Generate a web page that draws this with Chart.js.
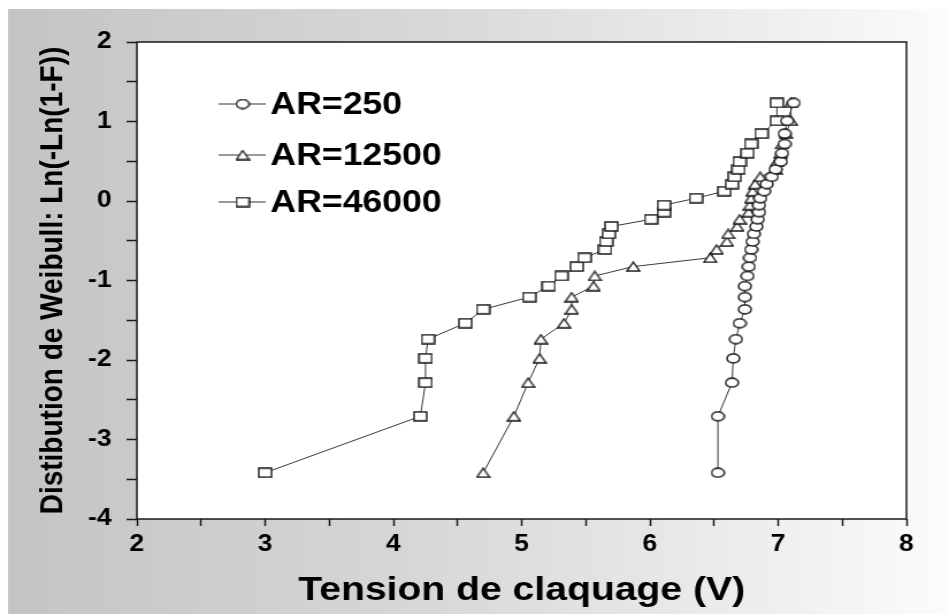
<!DOCTYPE html>
<html>
<head>
<meta charset="utf-8">
<script src="https://cdn.jsdelivr.net/npm/chart.js@4.4.1/dist/chart.umd.min.js"></script>
<style>
  html, body { margin: 0; padding: 0; background: #fff; }
  #weibull { display: block; }
</style>
</head>
<body>
<!-- the source picture is a bit stretched sideways: draw narrower, scale up with CSS -->
<canvas id="weibull" width="825" height="614" style="width:949px;height:614px"></canvas>
<script>
// Weibull plotting positions Ln(-Ln(1-F)), same for every series (30 samples)
const weibullY = [-3.418, -2.708, -2.285, -1.979, -1.738, -1.537, -1.363, -1.209, -1.070, -0.943,
    -0.825, -0.714, -0.610, -0.510, -0.413, -0.320, -0.230, -0.140, -0.052, 0.035,
    0.123, 0.213, 0.304, 0.398, 0.496, 0.601, 0.717, 0.848, 1.008, 1.234];

// breakdown voltage (V)
const ar250X = [6.53, 6.53, 6.64, 6.65, 6.67, 6.70, 6.74, 6.74, 6.74, 6.76,
    6.77, 6.78, 6.79, 6.80, 6.81, 6.83, 6.84, 6.85, 6.85, 6.86,
    6.89, 6.91, 6.95, 6.98, 7.02, 7.03, 7.05, 7.05, 7.07, 7.12];
const ar12500X = [4.70, 4.94, 5.05, 5.14, 5.15, 5.33, 5.39, 5.39, 5.56, 5.57,
    5.87, 6.47, 6.52, 6.60, 6.61, 6.68, 6.70, 6.77, 6.78, 6.79,
    6.80, 6.82, 6.86, 6.98, 6.99, 7.02, 7.03, 7.06, 7.10, 7.10];
const ar46000X = [3.00, 4.21, 4.25, 4.25, 4.27, 4.56, 4.70, 5.06, 5.21, 5.31,
    5.43, 5.49, 5.65, 5.66, 5.68, 5.70, 6.01, 6.11, 6.11, 6.36,
    6.58, 6.64, 6.66, 6.69, 6.70, 6.76, 6.79, 6.87, 6.99, 6.99];

const seriesLabels = ['AR=250', 'AR=12500', 'AR=46000'];
const seriesX = [ar250X, ar12500X, ar46000X];
const markerKinds = ['circle', 'triangle', 'rect'];

const FONT = "'Liberation Sans', Arial, Helvetica, sans-serif";
const INK = '#1a1a1a';

// Open markers are a little wider than tall in the source, so build them as small canvases
function makeMarker(kind) {
    const w = 13, h = 11;
    const c = document.createElement('canvas');
    c.width = w;
    c.height = h;
    const g = c.getContext('2d');
    g.fillStyle = '#ffffff';
    g.strokeStyle = INK;
    g.lineWidth = 1.4;
    g.beginPath();
    if (kind === 'circle') {
        g.ellipse(w / 2, h / 2, w / 2 - 1, h / 2 - 1, 0, 0, Math.PI * 2);
    } else if (kind === 'triangle') {
        g.moveTo(w / 2, 1);
        g.lineTo(w - 1, h - 1);
        g.lineTo(1, h - 1);
    } else {
        g.rect(1, 1, w - 2, h - 2);
    }
    g.closePath();
    g.fill();
    g.stroke();
    return c;
}
const markers = markerKinds.map(makeMarker);

// Background: white margin then grey-to-white gradient, white plot area with frame
const backdrop = {
    id: 'backdrop',
    beforeDraw(chart) {
        const { ctx, width, height, chartArea } = chart;
        ctx.save();
        ctx.fillStyle = '#ffffff';
        ctx.fillRect(0, 0, width, height);
        const g = ctx.createLinearGradient(7, 0, width, 0);
        g.addColorStop(0, '#c4c4c4');
        g.addColorStop(0.45, '#d8d8d8');
        g.addColorStop(0.8, '#eeeeee');
        g.addColorStop(1, '#fcfcfc');
        ctx.fillStyle = g;
        ctx.fillRect(7, 9, width - 7, height - 9);
        ctx.fillStyle = '#ffffff';
        ctx.fillRect(chartArea.left, chartArea.top, chartArea.right - chartArea.left, chartArea.bottom - chartArea.top);
        ctx.restore();
    },
    afterDraw(chart) {
        const { ctx, chartArea } = chart;
        ctx.save();
        ctx.strokeStyle = INK;
        ctx.lineWidth = 1.5;
        ctx.strokeRect(chartArea.left, chartArea.top, chartArea.right - chartArea.left, chartArea.bottom - chartArea.top);
        ctx.restore();
    }
};

// Legend inside the plot: line - marker - line, then bold label
const insideLegend = {
    id: 'insideLegend',
    afterDraw(chart) {
        const { ctx } = chart;
        const rowsY = [104, 155, 202];
        ctx.save();
        chart.data.datasets.forEach((ds, i) => {
            const y = rowsY[i];
            ctx.strokeStyle = '#333';
            ctx.lineWidth = 1;
            ctx.beginPath();
            ctx.moveTo(190, y);
            ctx.lineTo(231, y);
            ctx.stroke();
            const m = ds.pointStyle;
            ctx.drawImage(m, 211 - m.width / 2, y - m.height / 2);
            ctx.fillStyle = '#000';
            ctx.font = 'bold 31px ' + FONT;
            ctx.textBaseline = 'middle';
            ctx.fillText(ds.label, 235, y + 1);
        });
        ctx.restore();
    }
};

const datasets = seriesLabels.map((label, i) => ({
    label: label,
    data: seriesX[i].map((x, k) => ({ x: x, y: weibullY[k] })),
    showLine: true,
    borderColor: '#3a3a3a',
    borderWidth: 1,
    pointStyle: markers[i],
    pointRadius: 6,
    tension: 0
}));

const onlyWhole = v => Number.isInteger(v) ? v : '';

new Chart(document.getElementById('weibull'), {
    type: 'scatter',
    data: { datasets: datasets },
    options: {
        responsive: false,
        animation: false,
        devicePixelRatio: 1,
        layout: { padding: { top: 42, right: 37, left: 0, bottom: 0 } },
        plugins: {
            legend: { display: false },
            tooltip: { enabled: false }
        },
        scales: {
            x: {
                type: 'linear',
                min: 2,
                max: 8,
                afterFit: s => { s.height = 95; },
                border: { display: false },
                grid: { drawOnChartArea: false, tickLength: 7, tickColor: INK, tickWidth: 1.5 },
                ticks: {
                    stepSize: 0.5,
                    autoSkip: false,
                    maxRotation: 0,
                    padding: 5,
                    color: '#000',
                    font: { family: FONT, size: 23, weight: 'bold' },
                    callback: onlyWhole
                },
                title: {
                    display: true,
                    text: 'Tension de claquage (V)',
                    color: '#000',
                    font: { family: FONT, size: 34, weight: 'bold' },
                    padding: { top: 0, bottom: 3 }
                }
            },
            y: {
                type: 'linear',
                min: -4,
                max: 2,
                afterFit: s => { s.width = 119; },
                border: { display: false },
                grid: { drawOnChartArea: false, tickLength: 9, tickColor: INK, tickWidth: 1.5 },
                ticks: {
                    stepSize: 0.5,
                    autoSkip: false,
                    padding: 13,
                    color: '#000',
                    font: { family: FONT, size: 23, weight: 'bold' },
                    callback: onlyWhole
                },
                title: {
                    display: true,
                    text: 'Distibution de Weibull: Ln(-Ln(1-F))',
                    color: '#000',
                    font: { family: FONT, size: 28, weight: 'bold' },
                    padding: { top: 29, bottom: 0 }
                }
            }
        }
    },
    plugins: [backdrop, insideLegend]
});
</script>
</body>
</html>
